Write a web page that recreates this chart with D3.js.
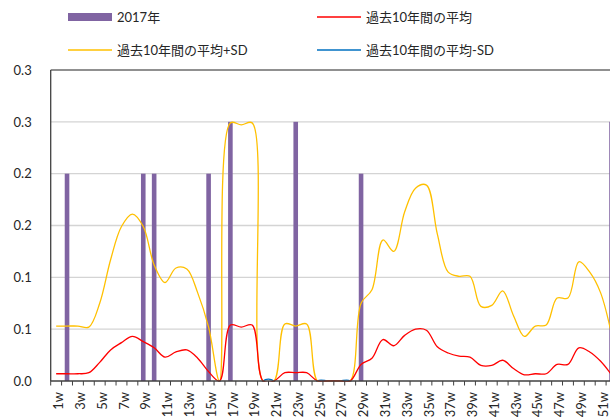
<!DOCTYPE html>
<html><head><meta charset="utf-8">
<script src="https://cdn.jsdelivr.net/npm/d3@7"></script>
<style>
html,body{margin:0;padding:0;background:#fff;overflow:hidden}
text{font-family:Lato,"Noto Sans CJK JP",sans-serif;fill:#262626}
</style></head>
<body><svg id="c" width="610" height="419"></svg>
<script>
const weeks = d3.range(1, 53).map(d => d + "w");
const bars2017 = [0,0.20,0,0,0,0,0,0,0.20,0.20,0,0,0,0,0.20,0,0.25,0,0,0,0,0,0.25,0,0,0,0,0,0.20,0,0,0,0,0,0,0,0,0,0,0,0,0,0,0,0,0,0,0,0,0,0,0.25];
const mean10 = [0.007,0.007,0.007,0.008,0.018,0.030,0.037,0.043,0.038,0.032,0.023,0.028,0.030,0.022,0.009,0,0.054,0.052,0.054,0,0,0.008,0.008,0.008,0,0,0,0,0.016,0.022,0.040,0.034,0.044,0.050,0.049,0.033,0.027,0.024,0.023,0.015,0.015,0.020,0.012,0.006,0.007,0.007,0.016,0.016,0.032,0.028,0.019,0.006];
const meanPlusSD = [0.053,0.053,0.053,0.052,0.075,0.117,0.149,0.161,0.149,0.112,0.095,0.109,0.108,0.085,0.052,0,0.249,0.247,0.249,0,0,0.055,0.053,0.055,0,0,0,0,0.075,0.088,0.136,0.125,0.163,0.186,0.189,0.142,0.105,0.101,0.101,0.072,0.073,0.087,0.063,0.043,0.053,0.054,0.080,0.080,0.115,0.105,0.085,0.045];
const meanMinusSD = [-0.039,-0.039,-0.039,-0.036,-0.039,-0.057,-0.075,-0.075,-0.073,-0.048,-0.049,-0.053,-0.048,-0.041,-0.034,0,-0.141,-0.143,-0.141,0,0,-0.039,-0.037,-0.039,0,0,0,0,-0.043,-0.044,-0.056,-0.057,-0.075,-0.086,-0.091,-0.076,-0.051,-0.053,-0.055,-0.042,-0.043,-0.047,-0.039,-0.031,-0.039,-0.040,-0.048,-0.048,-0.051,-0.049,-0.047,-0.033];
const yTickValues = [0,0.05,0.10,0.15,0.20,0.25,0.30];
const yTickLabels = ["0.0","0.1","0.1","0.2","0.2","0.3","0.3"];
const seriesNames = ["2017年","過去10年間の平均","過去10年間の平均+SD","過去10年間の平均-SD"];
const colors = ["#8064A2","#FF0000","#FFC000","#0070C0"];

const svg = d3.select("#c");
const pLeft = 50.7, pTop = 70, pBottom = 381, bw = 10.89;
const x = d3.scaleBand().domain(weeks).range([pLeft, pLeft + bw * weeks.length]).paddingInner(0).paddingOuter(0);
const y = d3.scaleLinear().domain([0, 0.30]).range([pBottom, pTop]);

// gridlines
svg.append("g").selectAll("line").data(yTickValues.slice(1, 6)).join("line")
  .attr("x1", pLeft).attr("x2", 610).attr("y1", d => y(d)).attr("y2", d => y(d))
  .attr("stroke", "#D4D4D4").attr("stroke-width", 1.3);
svg.append("line").attr("x1", pLeft).attr("x2", 610).attr("y1", y(0.30)).attr("y2", y(0.30))
  .attr("stroke", "#6b6b6b").attr("stroke-width", 1.3);

// bars
const barW = 4.6;
svg.append("g").selectAll("rect").data(bars2017).join("rect")
  .attr("x", (d, i) => x(weeks[i]) + x.bandwidth() / 2 - barW / 2)
  .attr("width", barW)
  .attr("y", d => y(d)).attr("height", d => y(0) - y(d))
  .attr("fill", colors[0]);

// lines
svg.append("clipPath").attr("id", "clip").append("rect")
  .attr("x", pLeft).attr("y", pTop).attr("width", 600).attr("height", pBottom - pTop + 0.8);
const line = d3.line().x((d, i) => x(weeks[i]) + x.bandwidth() / 2).y(d => y(d)).curve(d3.curveCatmullRom.alpha(0.5));
const lg = svg.append("g").attr("clip-path", "url(#clip)");
[[meanMinusSD, colors[3]], [meanPlusSD, colors[2]], [mean10, colors[1]]].forEach(([data, c]) => {
  lg.append("path").attr("d", line(data)).attr("fill", "none").attr("stroke", c).attr("stroke-width", 1.3);
});

// axes
const xAxis = svg.append("g").attr("transform", `translate(0,${pBottom})`)
  .call(d3.axisBottom(x).tickSize(0).tickFormat((d, i) => i % 2 === 0 ? d : ""));
xAxis.select(".domain").remove();
xAxis.selectAll("text").attr("transform", "rotate(-90)").attr("text-anchor", "end")
  .attr("x", -11).attr("y", 0).attr("dy", "0.55em").style("font-size", "13px")
  .style("font-family", "Lato,sans-serif").attr("fill", "#262626");
svg.append("g").selectAll("line").data(d3.range(weeks.length + 1)).join("line")
  .attr("x1", i => pLeft + i * bw).attr("x2", i => pLeft + i * bw)
  .attr("y1", pBottom).attr("y2", pBottom + 4.5).attr("stroke", "#404040").attr("stroke-width", 1);
svg.append("line").attr("x1", pLeft).attr("x2", 610).attr("y1", pBottom).attr("y2", pBottom)
  .attr("stroke", "#404040").attr("stroke-width", 1.3);
svg.append("line").attr("x1", pLeft).attr("x2", pLeft).attr("y1", pTop).attr("y2", pBottom)
  .attr("stroke", "#404040").attr("stroke-width", 1.3);

const yAxis = svg.append("g").attr("transform", `translate(${pLeft},0)`)
  .call(d3.axisLeft(y).tickValues(yTickValues).tickSize(0).tickPadding(19).tickFormat((d, i) => yTickLabels[i]));
yAxis.select(".domain").remove();
yAxis.selectAll("text").style("font-size", "13px").style("font-family", "Lato,sans-serif").attr("fill", "#262626");

// legend
const legendItems = [
  {name: seriesNames[0], c: colors[0], type: "bar", lx: 68, ly: 17},
  {name: seriesNames[1], c: colors[1], type: "line", lx: 317, ly: 17},
  {name: seriesNames[2], c: colors[2], type: "line", lx: 68, ly: 50},
  {name: seriesNames[3], c: colors[3], type: "line", lx: 317, ly: 50}
];
const lgd = svg.append("g");
legendItems.forEach(it => {
  if (it.type === "bar") lgd.append("rect").attr("x", it.lx).attr("y", it.ly - 4).attr("width", 44).attr("height", 8).attr("fill", it.c);
  else lgd.append("line").attr("x1", it.lx).attr("x2", it.lx + 44).attr("y1", it.ly).attr("y2", it.ly).attr("stroke", it.c).attr("stroke-width", 1.5);
  lgd.append("text").attr("x", it.lx + 49).attr("y", it.ly).attr("dy", "0.35em").style("font-size", "13px").text(it.name);
});
</script></body></html>
